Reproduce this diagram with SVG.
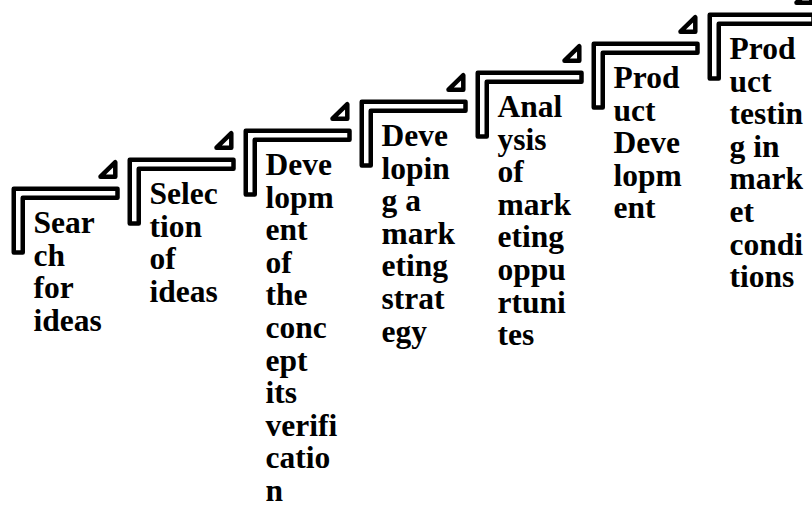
<svg xmlns="http://www.w3.org/2000/svg" width="812" height="508" viewBox="0 0 812 508">
  <defs>
    <style>
      .frame { fill: none; stroke: #000; stroke-width: 4.5; stroke-linejoin: round; }
      .label { font-family: "Liberation Serif", "Times New Roman", serif; font-weight: bold; font-size: 31.5px; fill: #000; }
    </style>
    <!-- L-shaped step bracket with the small arrow tip above its right end -->
    <g id="stepShape">
      <path class="frame" d="M2.25 2.25 H106 V11.25 H11.25 V66 H2.25 Z"/>
      <path class="frame" d="M89 -9.8 L103.8 -24.3 V-9.8 Z"/>
    </g>
  </defs>
  <rect width="812" height="508" fill="#fff"/>

  <g id="step1" transform="translate(11.5,186.5)">
    <use href="#stepShape"/>
    <text class="label" x="22" y="46.5"><tspan x="22">Sear</tspan><tspan x="22" dy="32.6">ch</tspan><tspan x="22" dy="32.6">for</tspan><tspan x="22" dy="32.6">ideas</tspan></text>
  </g>

  <g id="step2" transform="translate(127.5,157.5)">
    <use href="#stepShape"/>
    <text class="label" x="22" y="46.5"><tspan x="22">Selec</tspan><tspan x="22" dy="32.6">tion</tspan><tspan x="22" dy="32.6">of</tspan><tspan x="22" dy="32.6">ideas</tspan></text>
  </g>

  <g id="step3" transform="translate(243.5,128.5)">
    <use href="#stepShape"/>
    <text class="label" x="22" y="46.5"><tspan x="22">Deve</tspan><tspan x="22" dy="32.6">lopm</tspan><tspan x="22" dy="32.6">ent</tspan><tspan x="22" dy="32.6">of</tspan><tspan x="22" dy="32.6">the</tspan><tspan x="22" dy="32.6">conc</tspan><tspan x="22" dy="32.6">ept</tspan><tspan x="22" dy="32.6">its</tspan><tspan x="22" dy="32.6">verifi</tspan><tspan x="22" dy="32.6">catio</tspan><tspan x="22" dy="32.6">n</tspan></text>
  </g>

  <g id="step4" transform="translate(359.5,99.5)">
    <use href="#stepShape"/>
    <text class="label" x="22" y="46.5"><tspan x="22">Deve</tspan><tspan x="22" dy="32.6">lopin</tspan><tspan x="22" dy="32.6">g a</tspan><tspan x="22" dy="32.6">mark</tspan><tspan x="22" dy="32.6">eting</tspan><tspan x="22" dy="32.6">strat</tspan><tspan x="22" dy="32.6">egy</tspan></text>
  </g>

  <g id="step5" transform="translate(475.5,70.5)">
    <use href="#stepShape"/>
    <text class="label" x="22" y="46.5"><tspan x="22">Anal</tspan><tspan x="22" dy="32.6">ysis</tspan><tspan x="22" dy="32.6">of</tspan><tspan x="22" dy="32.6">mark</tspan><tspan x="22" dy="32.6">eting</tspan><tspan x="22" dy="32.6">oppu</tspan><tspan x="22" dy="32.6">rtuni</tspan><tspan x="22" dy="32.6">tes</tspan></text>
  </g>

  <g id="step6" transform="translate(591.5,41.5)">
    <use href="#stepShape"/>
    <text class="label" x="22" y="46.5"><tspan x="22">Prod</tspan><tspan x="22" dy="32.6">uct</tspan><tspan x="22" dy="32.6">Deve</tspan><tspan x="22" dy="32.6">lopm</tspan><tspan x="22" dy="32.6">ent</tspan></text>
  </g>

  <g id="step7" transform="translate(707.5,12.5)">
    <use href="#stepShape"/>
    <text class="label" x="22" y="46.5"><tspan x="22">Prod</tspan><tspan x="22" dy="32.6">uct</tspan><tspan x="22" dy="32.6">testin</tspan><tspan x="22" dy="32.6">g in</tspan><tspan x="22" dy="32.6">mark</tspan><tspan x="22" dy="32.6">et</tspan><tspan x="22" dy="32.6">condi</tspan><tspan x="22" dy="32.6">tions</tspan></text>
  </g>

  <g id="connectors"></g>
</svg>
